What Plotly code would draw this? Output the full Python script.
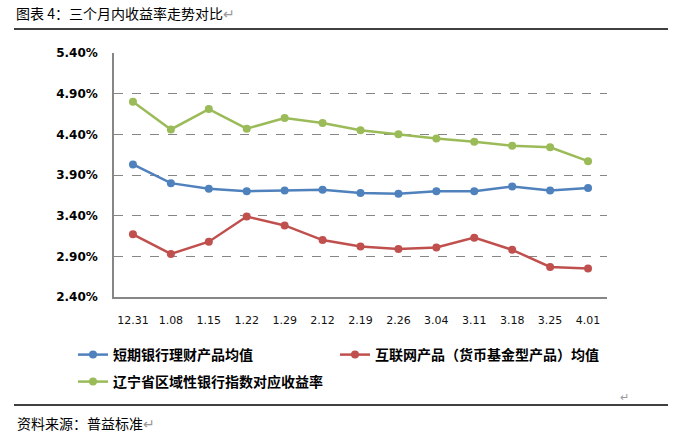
import plotly.graph_objects as go

W, H = 677, 443
# plot area in pixels (left, right, top, bottom)
PL, PR, PT, PB = 114, 607, 53, 297

dates = ["12.31", "1.08", "1.15", "1.22", "1.29", "2.12", "2.19",
         "2.26", "3.04", "3.11", "3.18", "3.25", "4.01"]

bank_short = [4.03, 3.80, 3.73, 3.70, 3.71, 3.72, 3.68, 3.67, 3.70, 3.70, 3.76, 3.71, 3.74]
internet = [3.17, 2.93, 3.08, 3.39, 3.28, 3.10, 3.02, 2.99, 3.01, 3.13, 2.98, 2.77, 2.75]
liaoning = [4.80, 4.46, 4.71, 4.47, 4.60, 4.54, 4.45, 4.40, 4.35, 4.31, 4.26, 4.24, 4.07]

y_ticks = [2.40, 2.90, 3.40, 3.90, 4.40, 4.90, 5.40]
y_labels = [f"{v:.2f}%" for v in y_ticks]

names = ["短期银行理财产品均值", "互联网产品（货币基金型产品）均值", "辽宁省区域性银行指数对应收益率"]
colors = ["#4F81BD", "#C0504D", "#9BBB59"]

CJK = "Noto Sans CJK SC"


def px_x(x):
    return (x - PL) / (PR - PL)


def px_y(y):
    return (PB - y) / (PB - PT)


fig = go.Figure()
for vals, name, color, lg in zip([bank_short, internet, liaoning], names, colors,
                                 ["legend", "legend", "legend2"]):
    fig.add_trace(go.Scatter(
        x=dates, y=vals, name=name, mode="lines+markers",
        line=dict(color=color, width=2.5),
        marker=dict(color=color, size=8),
        legend=lg,
    ))
# first entry gets a fixed width (text part; plotly adds 40px for the symbol)
# so that the second one starts where it does in the reference
fig.data[0].legendwidth = 217

legend_common = dict(
    orientation="h", xanchor="left", yanchor="middle",
    font=dict(family=CJK, size=14, color="#000", weight="bold"),
    bgcolor="rgba(0,0,0,0)",
    itemclick=False, itemdoubleclick=False,
)

fig.update_layout(
    width=W, height=H,
    margin=dict(l=PL, r=W - PR, t=PT, b=H - PB),
    paper_bgcolor="white", plot_bgcolor="white",
    showlegend=True,
    legend=dict(x=px_x(73), y=px_y(355), **legend_common),
    legend2=dict(x=px_x(73), y=px_y(382), **legend_common),
    xaxis=dict(
        type="category", range=[-0.5, 12.5],
        showgrid=False, showline=True, linecolor="#868686", linewidth=1.5,
        ticks="", ticklabelstandoff=12,
        tickfont=dict(family="Verdana, DejaVu Sans", size=11, color="#111"),
    ),
    yaxis=dict(
        range=[2.40, 5.40], tickvals=y_ticks, ticktext=y_labels,
        showgrid=True, gridcolor="#868686", griddash="dash", gridwidth=1,
        showline=True, linecolor="#868686", linewidth=1.5, zeroline=False,
        ticks="", ticklabelstandoff=12,
        tickfont=dict(family="Verdana, DejaVu Sans", size=12, color="#000", weight="bold"),
    ),
    font=dict(family=CJK),
)

# title, source and the rules of the surrounding document
fig.add_annotation(
    text="图表 4：三个月内收益率走势对比<span style='color:#999'>↵</span>",
    xref="paper", yref="paper", x=px_x(14), y=px_y(13),
    xanchor="left", yanchor="middle", showarrow=False,
    font=dict(family=CJK, size=14, color="#000"),
)
fig.add_annotation(
    text="资料来源：普益标准<span style='color:#999'>↵</span>",
    xref="paper", yref="paper", x=px_x(15), y=px_y(423),
    xanchor="left", yanchor="middle", showarrow=False,
    font=dict(family=CJK, size=14, color="#000"),
)
fig.add_annotation(
    text="↵", xref="paper", yref="paper", x=px_x(624), y=px_y(396),
    xanchor="center", yanchor="middle", showarrow=False,
    font=dict(family=CJK, size=11, color="#999"),
)
for yy in (29, 405):
    fig.add_shape(type="line", xref="paper", yref="paper",
                  x0=px_x(14), x1=px_x(668), y0=px_y(yy), y1=px_y(yy),
                  line=dict(color="#000", width=1.5))

# drop the default 8px body margin so the figure fills the window
fig.write_html("out.html", config={"displayModeBar": False},
               post_script="document.body.style.margin='0';")
